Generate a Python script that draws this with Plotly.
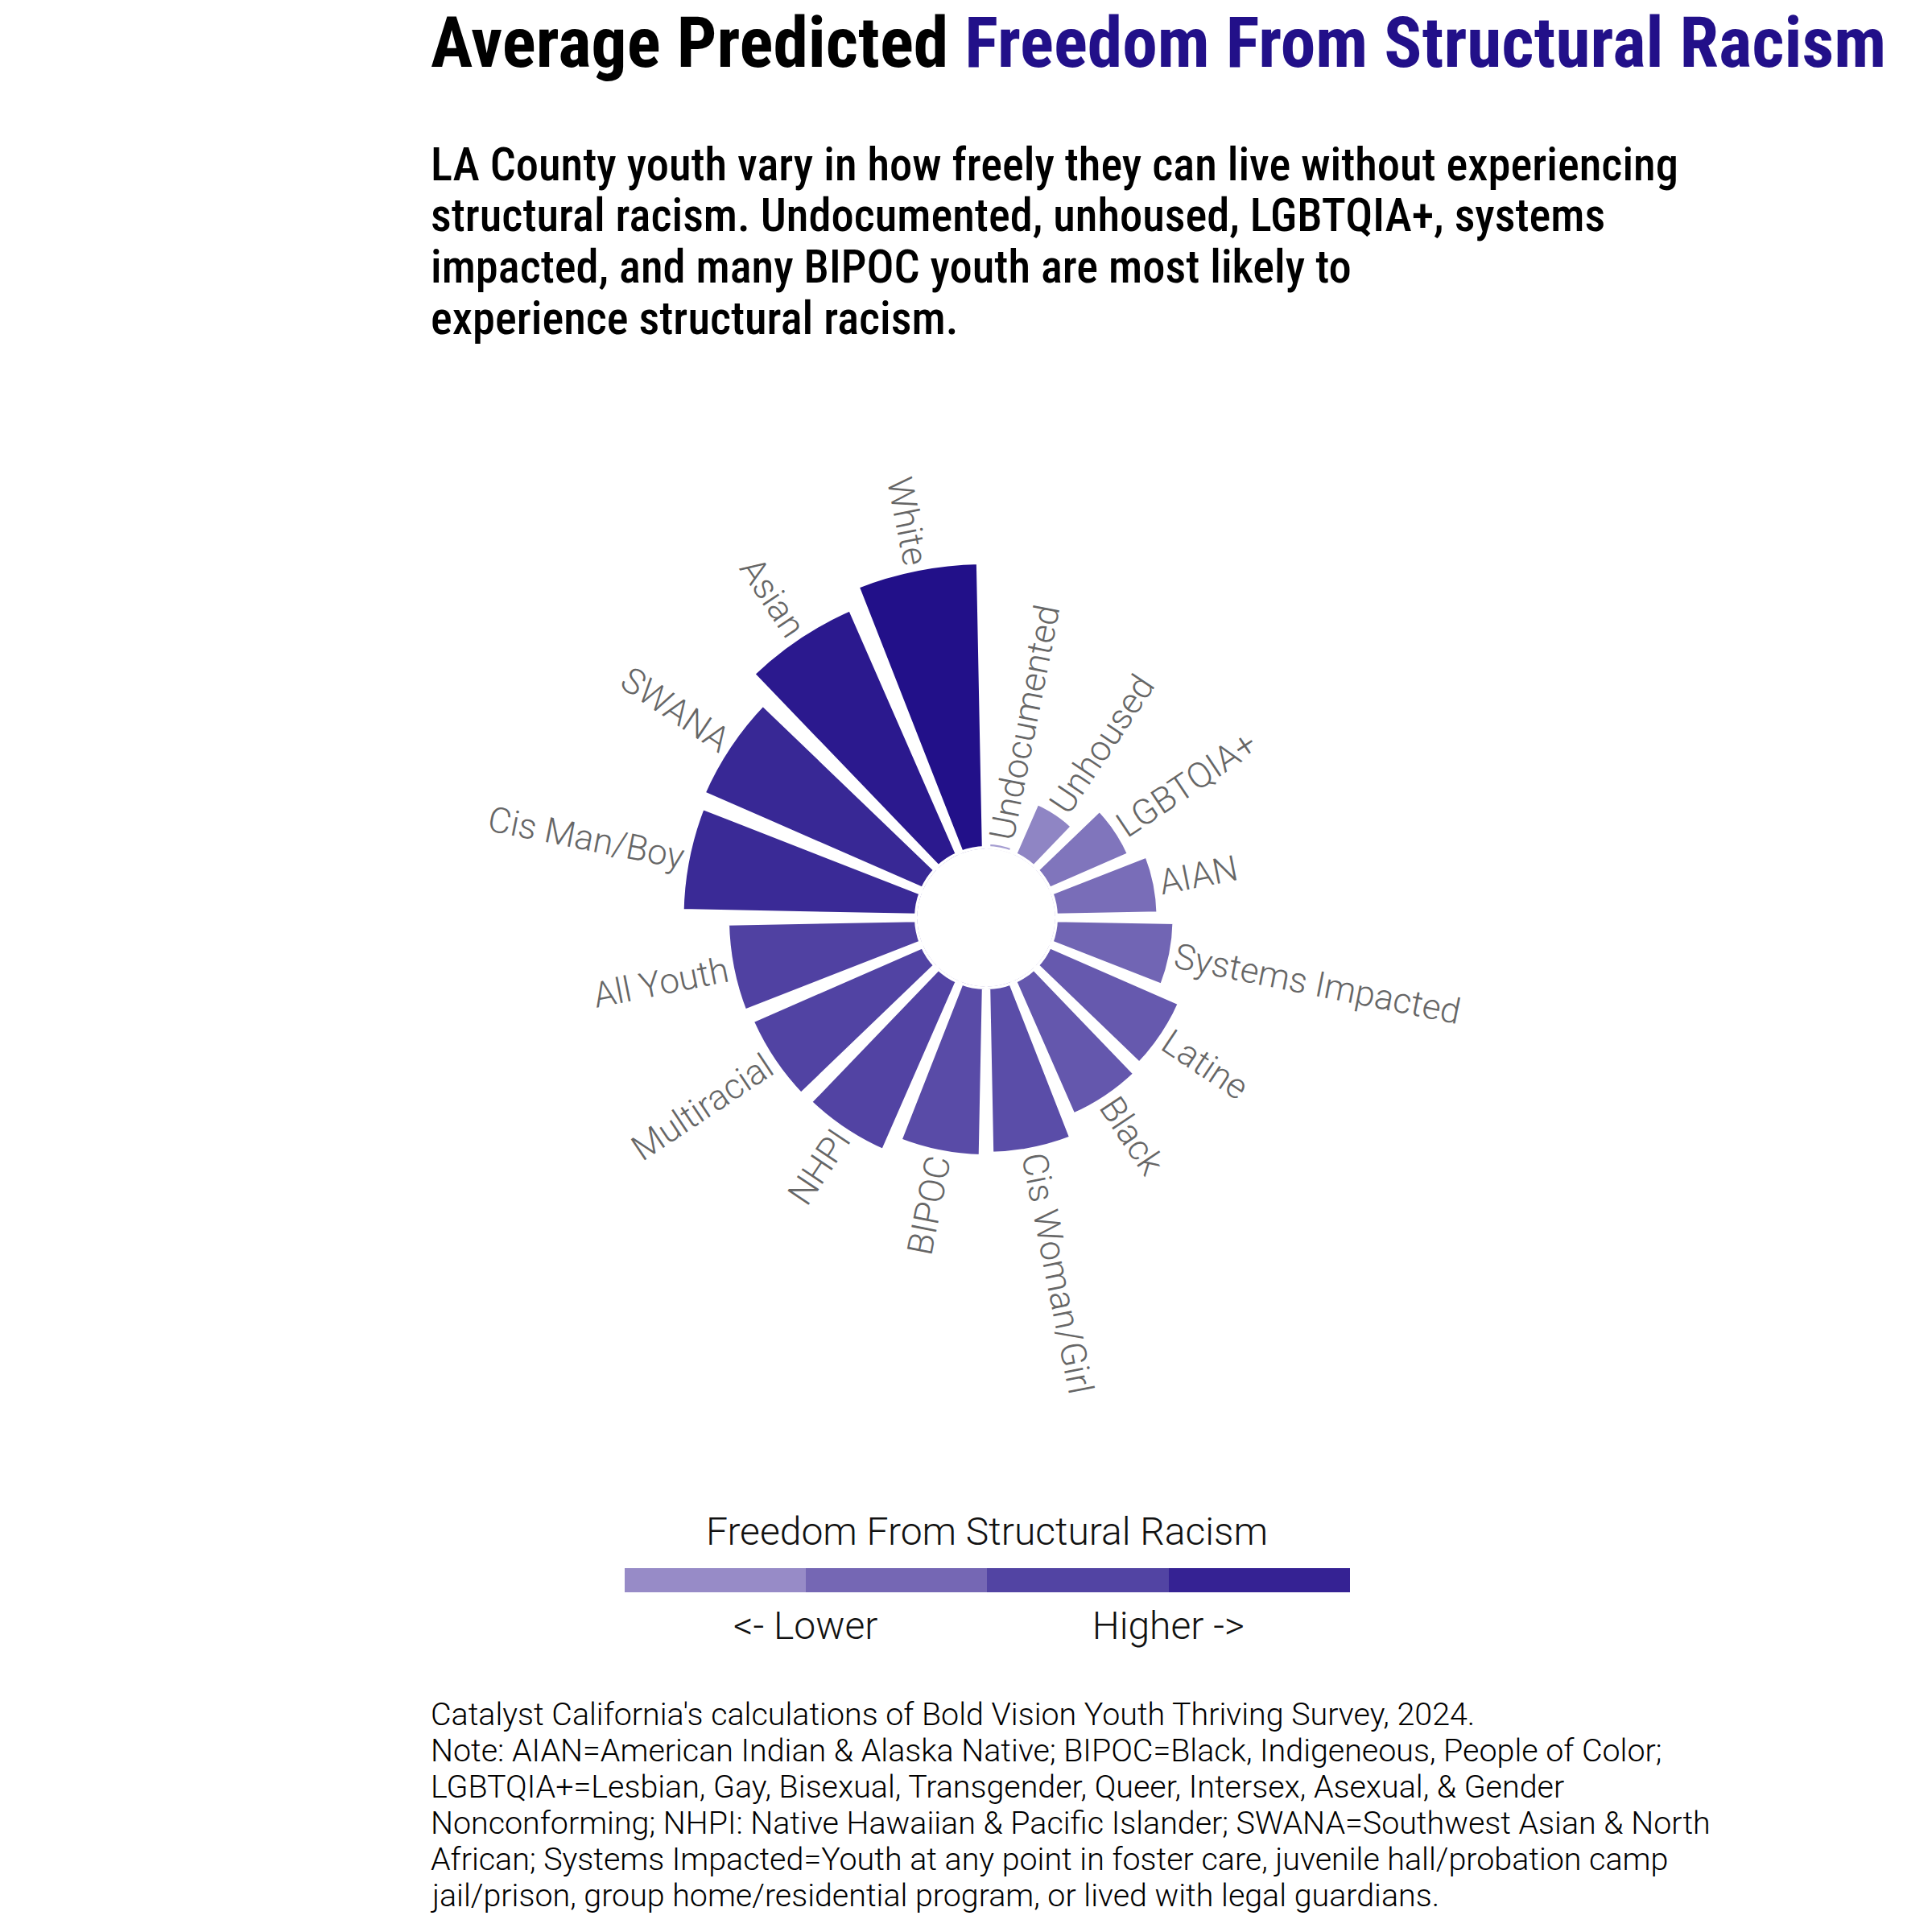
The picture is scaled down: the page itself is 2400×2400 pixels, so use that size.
import math
import plotly.graph_objects as go

# ---------------- data ----------------
categories = ["Undocumented", "Unhoused", "LGBTQIA+", "AIAN", "Systems Impacted",
              "Latine", "Black", "Cis Woman/Girl", "BIPOC", "NHPI", "Multiracial",
              "All Youth", "Cis Man/Boy", "SWANA", "Asian", "White"]
values = [2.6, 20.1, 30.8, 36.3, 41.9, 50.0, 51.4, 58.5, 59.4, 65.0, 65.4,
          66.4, 82.2, 83.8, 93.7, 100.0]
legend_bins = [0, 1, 2, 3, 4]
legend_tick_vals = [1, 3]
legend_tick_text = ["<- Lower", "Higher ->"]
legend_title = "Freedom From Structural Racism"

title_black = "Average Predicted "
title_purple = "Freedom From Structural Racism"
subtitle_lines = [
    "LA County youth vary in how freely they can live without experiencing",
    "structural racism. Undocumented, unhoused, LGBTQIA+, systems",
    "impacted, and many BIPOC youth are most likely to",
    "experience structural racism.",
]
footnote_lines = [
    "Catalyst California's calculations of Bold Vision Youth Thriving Survey, 2024.",
    "Note: AIAN=American Indian &amp; Alaska Native; BIPOC=Black, Indigeneous, People of Color;",
    "LGBTQIA+=Lesbian, Gay, Bisexual, Transgender, Queer, Intersex, Asexual, &amp; Gender",
    "Nonconforming; NHPI: Native Hawaiian &amp; Pacific Islander; SWANA=Southwest Asian &amp; North",
    "African; Systems Impacted=Youth at any point in foster care, juvenile hall/probation camp",
    "jail/prison, group home/residential program, or lived with legal guardians.",
]

# ---------------- layout constants ----------------
W = H = 2400
CX, CY = 1225, 1140          # polar centre (px)
R = 460                      # polar outer radius (px)
HOLE_PX = 85.5
VMAX = 104.9
STROKE = 7
LABEL_FONT = "Roboto"
HEAD_FONT = "Roboto Condensed"
DARK = "#221089"
n = len(categories)
step = 360 / n

fig = go.Figure()
fig.add_trace(go.Barpolar(
    r=values, theta=categories,
    marker=dict(color=values, coloraxis="coloraxis",
                line=dict(color="white", width=STROKE)),
    hoverinfo="theta+r", showlegend=False,
))
# invisible trace carrying the discrete legend colour bar
fig.add_trace(go.Scatterpolar(
    r=[0, 0], theta=categories[:2], mode="markers",
    marker=dict(color=[legend_bins[0], legend_bins[-1]], coloraxis="coloraxis2",
                opacity=0, size=1),
    hoverinfo="skip", showlegend=False,
))

d = [((CX - R) / W, (CX + R) / W), (1 - (CY + R) / H, 1 - (CY - R) / H)]
bins = ["#978bc7", "#7567b4", "#5244a3", "#352293"]
disc = []
for i, c in enumerate(bins):
    disc += [[i / 4, c], [(i + 1) / 4, c]]

fig.update_layout(
    width=W, height=H, autosize=False,
    margin=dict(l=0, r=0, t=0, b=0),
    paper_bgcolor="white", plot_bgcolor="white",
    polar=dict(
        domain=dict(x=list(d[0]), y=list(d[1])),
        hole=HOLE_PX / R,
        bgcolor="white",
        radialaxis=dict(range=[0, VMAX], visible=False, showgrid=False),
        angularaxis=dict(direction="clockwise", rotation=90 - step / 2,
                         type="category", categoryarray=categories,
                         showticklabels=False, ticks="", showgrid=False,
                         showline=False),
    ),
    coloraxis=dict(cmin=0, cmax=100, colorscale=[[0, "#aaa2d3"], [1, DARK]],
                   showscale=False),
    coloraxis2=dict(
        cmin=legend_bins[0], cmax=legend_bins[-1], colorscale=disc, showscale=True,
        colorbar=dict(
            orientation="h", x=1226 / W, xanchor="center",
            y=1 - 1948 / H, yanchor="top",
            len=901 / W, lenmode="fraction", thickness=30, thicknessmode="pixels",
            xpad=0, ypad=0, outlinewidth=0, ticks="",
            tickvals=legend_tick_vals, ticktext=legend_tick_text,
            tickfont=dict(family=LABEL_FONT, size=48, color="#111", weight=300),
        ),
    ),
)

ann = []
# title
ann.append(dict(
    text=f"<b>{title_black}<span style='color:{DARK}'>{title_purple}</span></b>",
    x=533 / W, y=1 - 53 / H, xref="paper", yref="paper", xanchor="left",
    yanchor="middle", showarrow=False,
    font=dict(family=HEAD_FONT, size=87.5, color="black")))
# subtitle
for k, line in enumerate(subtitle_lines):
    ann.append(dict(text=line, x=533 / W, y=1 - (205 + 63.5 * k) / H,
                    xref="paper", yref="paper", xanchor="left", yanchor="middle",
                    showarrow=False,
                    font=dict(family=HEAD_FONT, size=56.5, color="black", weight=500)))
# legend title
ann.append(dict(text=legend_title, x=1226 / W, y=1 - 1902 / H, xref="paper",
                yref="paper", xanchor="center", yanchor="middle", showarrow=False,
                font=dict(family=LABEL_FONT, size=48, color="#111", weight=300)))
# footnote
for k, line in enumerate(footnote_lines):
    ann.append(dict(text=line, x=533 / W, y=1 - (2129 + 45 * k) / H,
                    xref="paper", yref="paper", xanchor="left", yanchor="middle",
                    showarrow=False,
                    font=dict(family=LABEL_FONT, size=39.4, color="black", weight=300)))
# radial category labels
BOX = 480
PAD = 8
for i, (cat, v) in enumerate(zip(categories, values)):
    th = (i + 0.5) * step
    r_out = HOLE_PX + v / VMAX * (R - HOLE_PX) - STROKE / 2
    rc = r_out + PAD + BOX / 2
    px = CX + rc * math.sin(math.radians(th))
    py = CY - rc * math.cos(math.radians(th))
    if th <= 180:
        ang, al = th - 90, "left"
    else:
        ang, al = th - 270, "right"
    ann.append(dict(text=cat, x=px / W, y=1 - py / H, xref="paper", yref="paper",
                    xanchor="center", yanchor="middle", showarrow=False,
                    textangle=ang, width=BOX, align=al,
                    font=dict(family=LABEL_FONT, size=44, color="#666666", weight=300)))

fig.update_layout(annotations=ann)
fig.write_html("out.html")
